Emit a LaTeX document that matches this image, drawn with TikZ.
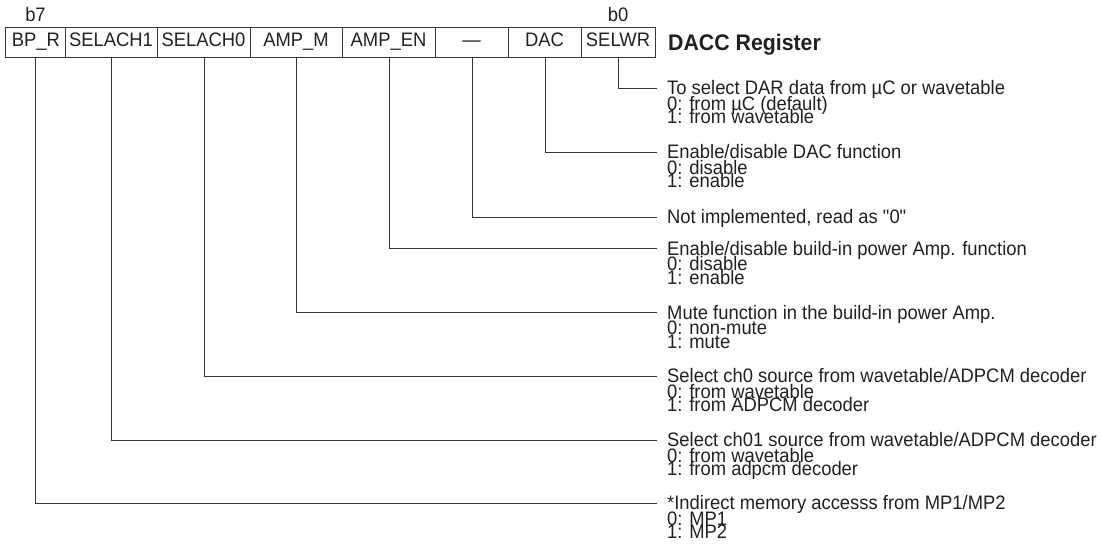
\documentclass[tikz,border=0pt]{standalone}
\usepackage{fontspec}
\setmainfont{Liberation Sans}[Ligatures=TeXOff]
\definecolor{ink}{RGB}{35,31,32}
\definecolor{wirec}{RGB}{55,55,55}
\newcommand{\vs}[1]{\scalebox{1}[1.06]{#1}}
\begin{document}
\begin{tikzpicture}[x=1pt,y=-1pt,
  cell/.style={draw=wirec, line width=1pt, minimum height=30pt, inner sep=0pt, anchor=west},
  lbl/.style={text=ink, font=\fontsize{18.4}{18.4}\selectfont, inner sep=0pt, anchor=base},
  desc/.style={lbl, anchor=base west},
  title/.style={text=ink, font=\bfseries\fontsize{21.3}{21.3}\selectfont, inner sep=0pt, anchor=base west},
  conn/.style={draw=wirec, line width=1pt}]
\useasboundingbox (0,0) rectangle (1102,543);

% register cells
\node[cell, minimum width=60pt] (c7) at (5,43) {};
\node[cell, minimum width=92pt] (c6) at (65,43) {};
\node[cell, minimum width=93pt] (c5) at (157,43) {};
\node[cell, minimum width=92pt] (c4) at (250,43) {};
\node[cell, minimum width=93pt] (c3) at (342,43) {};
\node[cell, minimum width=73pt] (c2) at (435,43) {};
\node[cell, minimum width=73pt] (c1) at (508,43) {};
\node[cell, minimum width=74pt] (c0) at (581,43) {};

% cell labels
\node[lbl] (l7) at (36,46.7) {\vs{BP\_R}};
\node[lbl] (l6) at (111,46.7) {\vs{SELACH1}};
\node[lbl] (l5) at (203.5,46.7) {\vs{SELACH0}};
\node[lbl] (l4) at (296,46.7) {\vs{AMP\_M}};
\node[lbl] (l3) at (388.5,46.7) {\vs{AMP\_EN}};
\node[lbl] (l2) at (471.5,46.7) {\vs{—}};
\node[lbl] (l1) at (544.5,46.7) {\vs{DAC}};
\node[lbl] (l0) at (618,46.7) {\vs{SELWR}};

\node[lbl] (b7) at (35.5,21.7) {\vs{b7}};
\node[lbl] (b0) at (618,21.7) {\vs{b0}};

\node[title] (ttl) at (668,50.7) {\vs{DACC Register}};

% connector ends
\coordinate (e0) at (657,88);
\coordinate (e1) at (657,152);
\coordinate (e2) at (657,217);
\coordinate (e3) at (657,248.5);
\coordinate (e4) at (657,312.5);
\coordinate (e5) at (657,376);
\coordinate (e6) at (657,440);
\coordinate (e7) at (657,503);

\draw[conn] (c0.south) |- (e0);
\draw[conn] (c1.south) |- (e1);
\draw[conn] (c2.south) |- (e2);
\draw[conn] (c3.south) |- (e3);
\draw[conn] (c4.south) |- (e4);
\draw[conn] (c5.south) |- (e5);
\draw[conn] (c6.south) |- (e6);
\draw[conn] (c7.south) |- (e7);

% descriptions
\node[desc] (d0a) at (667,94.5) {\vs{To select DAR data from µC or wavetable}};
\node[desc] (d0b) at (667,110) {\vs{0: from µC (default)}};
\node[desc] (d0c) at (667,123.5) {\vs{1: from wavetable}};

\node[desc] (d1a) at (667,158.5) {\vs{Enable/disable DAC function}};
\node[desc] (d1b) at (667,174) {\vs{0: disable}};
\node[desc] (d1c) at (667,187.5) {\vs{1: enable}};

\node[desc] (d2a) at (667,223.5) {\vs{Not implemented, read as "0"}};

\node[desc] (d3a) at (667,255) {\vs{Enable/disable build-in power Amp. function}};
\node[desc] (d3b) at (667,270.5) {\vs{0: disable}};
\node[desc] (d3c) at (667,284) {\vs{1: enable}};

\node[desc] (d4a) at (667,319) {\vs{Mute function in the build-in power Amp.}};
\node[desc] (d4b) at (667,334.5) {\vs{0: non-mute}};
\node[desc] (d4c) at (667,348) {\vs{1: mute}};

\node[desc] (d5a) at (667,382.5) {\vs{Select ch0 source from wavetable/ADPCM decoder}};
\node[desc] (d5b) at (667,398) {\vs{0: from wavetable}};
\node[desc] (d5c) at (667,411.5) {\vs{1: from ADPCM decoder}};

\node[desc] (d6a) at (667,446.5) {\vs{Select ch01 source from wavetable/ADPCM decoder}};
\node[desc] (d6b) at (667,462) {\vs{0: from wavetable}};
\node[desc] (d6c) at (667,475.5) {\vs{1: from adpcm decoder}};

\node[desc] (d7a) at (667,509.5) {\vs{*Indirect memory accesss from MP1/MP2}};
\node[desc] (d7b) at (667,525) {\vs{0: MP1}};
\node[desc] (d7c) at (667,538.5) {\vs{1: MP2}};
\end{tikzpicture}
\end{document}
